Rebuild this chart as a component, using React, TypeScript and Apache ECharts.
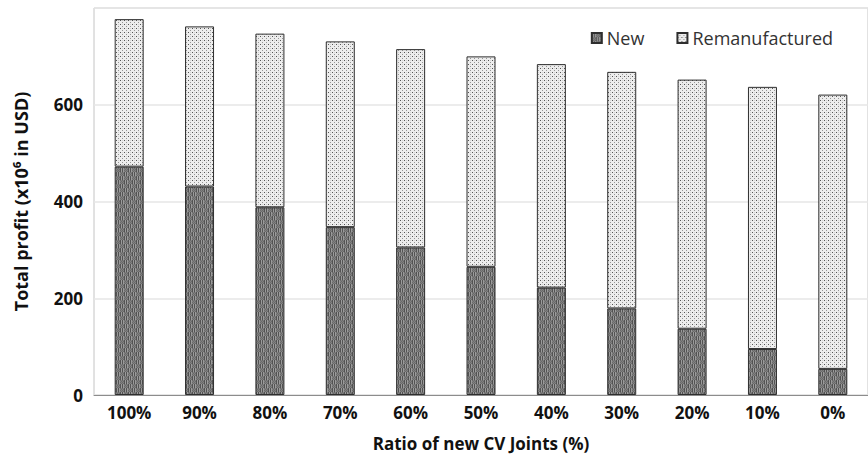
import React, { useEffect, useRef } from "react";
import * as echarts from "echarts";

const categories = ["100%", "90%", "80%", "70%", "60%", "50%", "40%", "30%", "20%", "10%", "0%"];
const newValues = [472, 431, 388, 347, 305, 265, 222, 179, 137, 95, 54];
const remanValues = [305, 331, 359, 384, 410, 435, 462, 489, 515, 542, 567];
const seriesNames = ["New", "Remanufactured"];
const yTicks = { min: 0, max: 800, interval: 200 };

function makeNewPattern(): HTMLCanvasElement {
  const c = document.createElement("canvas");
  c.width = 8;
  c.height = 8;
  const ctx = c.getContext("2d")!;
  ctx.fillStyle = "#747474";
  ctx.fillRect(0, 0, 8, 8);
  for (let y = 0; y < 8; y++) {
    for (let x = 0; x < 8; x++) {
      const block = (Math.floor(x / 4) + Math.floor(y / 4)) % 2;
      if (block === 0) {
        ctx.fillStyle = x % 2 === 0 ? "#525252" : "#9a9a9a";
      } else {
        ctx.fillStyle = (x + y) % 2 === 0 ? "#6a6a6a" : "#808080";
      }
      ctx.fillRect(x, y, 1, 1);
    }
  }
  return c;
}

function makeRemanPattern(): HTMLCanvasElement {
  const c = document.createElement("canvas");
  c.width = 4;
  c.height = 4;
  const ctx = c.getContext("2d")!;
  ctx.fillStyle = "#ededed";
  ctx.fillRect(0, 0, 4, 4);
  ctx.fillStyle = "#555555";
  ctx.fillRect(0, 0, 1, 1);
  ctx.fillStyle = "#959595";
  ctx.fillRect(2, 2, 1, 1);
  ctx.fillStyle = "#d4d4d4";
  ctx.fillRect(2, 0, 1, 1);
  return c;
}

export default function App() {
  const ref = useRef<HTMLDivElement>(null);
  useEffect(() => {
    if (!ref.current) return;
    const chart = echarts.init(ref.current, undefined, { renderer: "svg" });
    const newPat = { image: makeNewPattern(), repeat: "repeat" };
    const remPat = { image: makeRemanPattern(), repeat: "repeat" };
    const font = "'Open Sans', 'Liberation Sans', sans-serif";
    chart.setOption({
      animation: false,
      backgroundColor: "#ffffff",
      grid: {
        left: 94,
        right: 0,
        top: 8,
        bottom: 70,
        show: true,
        borderColor: "#c4c4c4",
        borderWidth: 1,
        backgroundColor: "transparent",
      },
      legend: {
        right: 30,
        top: 24,
        icon: "rect",
        itemWidth: 10,
        itemHeight: 10,
        itemGap: 32,
        data: seriesNames,
        textStyle: { fontFamily: font, fontSize: 18, color: "#333" },
      },
      xAxis: {
        type: "category",
        data: categories,
        axisTick: { show: false },
        axisLine: { lineStyle: { color: "#8c8c8c", width: 1 } },
        axisLabel: {
          fontFamily: font,
          fontWeight: "bold",
          fontSize: 17,
          color: "#111",
          margin: 9,
        },
        name: "Ratio of new CV Joints (%)",
        nameLocation: "middle",
        nameGap: 40,
        nameTextStyle: { fontFamily: font, fontWeight: "bold", fontSize: 17, color: "#111" },
      },
      yAxis: {
        type: "value",
        min: yTicks.min,
        max: yTicks.max,
        interval: yTicks.interval,
        axisLine: { show: false },
        axisTick: { show: false },
        splitLine: { lineStyle: { color: "#e6e6e6", width: 1.5 } },
        axisLabel: {
          fontFamily: font,
          fontWeight: "bold",
          fontSize: 17,
          color: "#111",
          margin: 11,
          showMaxLabel: false,
        },
        name: "Total profit (x10⁶ in USD)",
        nameLocation: "middle",
        nameGap: 64,
        nameTextStyle: { fontFamily: font, fontWeight: "bold", fontSize: 18, color: "#111" },
      },
      series: [
        {
          name: seriesNames[0],
          type: "bar",
          stack: "total",
          barWidth: 29,
          data: newValues,
          itemStyle: { color: newPat, borderColor: "#2e2e2e", borderWidth: 1 },
        },
        {
          name: seriesNames[1],
          type: "bar",
          stack: "total",
          barWidth: 29,
          data: remanValues,
          itemStyle: { color: remPat, borderColor: "#2e2e2e", borderWidth: 1 },
        },
      ],
    });
    return () => chart.dispose();
  }, []);
  return (
    <div
      ref={ref}
      style={{ position: "fixed", left: 0, top: 0, width: 868, height: 465 }}
    />
  );
}
